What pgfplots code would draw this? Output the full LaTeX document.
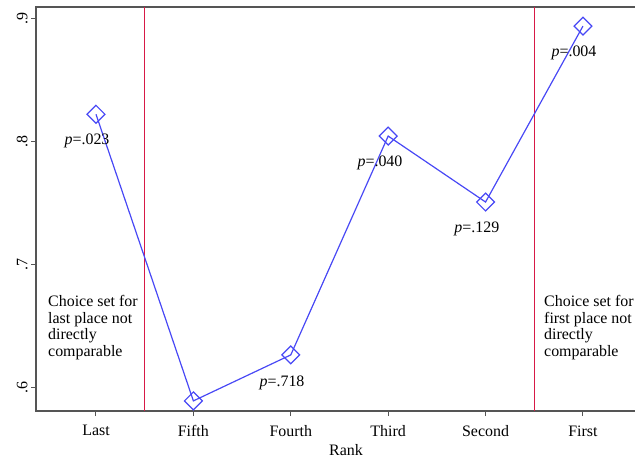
\documentclass[border=0pt]{standalone}
\usepackage{pgfplots}
\pgfplotsset{compat=1.18}
\usepackage{fontspec}
\setmainfont{Liberation Serif}

\definecolor{lineblue}{RGB}{72,72,245}
\definecolor{cutred}{RGB}{215,25,70}
\definecolor{axisgray}{RGB}{85,85,85}

\begin{document}
\begin{tikzpicture}
\begin{axis}[
  at={(0,0)}, anchor=south west,
  scale only axis, width=620bp, height=404bp,
  xmin=-0.616, xmax=5.75, ymin=0.5813, ymax=0.909,
  xtick={0,1,2,3,4,5},
  xticklabels={Last,Fifth,Fourth,Third,Second,First},
  ytick={0.6,0.7,0.8,0.9},
  yticklabels={.6,.7,.8,.9},
  tick align=outside, tick pos=left,
  major tick length=5bp,
  tick style={axisgray, line width=1bp},
  axis line style={axisgray, line width=1.3bp},
  ticklabel style={font=\fontsize{16}{16}\selectfont},
  xticklabel style={yshift=-6bp},
  yticklabel style={rotate=90, anchor=south},
  xlabel={Rank},
  xlabel style={font=\fontsize{16}{16}\selectfont, yshift=-1bp},
  clip=false,
]
% choice-set boundaries
\addplot[cutred, line width=1.3bp] coordinates {(0.5,0.5813) (0.5,0.909)};
\addplot[cutred, line width=1.3bp] coordinates {(4.5,0.5813) (4.5,0.909)};

% mean by rank
\addplot[lineblue, line width=1.2bp, mark=square, mark size=6.3bp,
  mark options={rotate=45, fill=white, line width=1.2bp}]
  coordinates {
    (0,0.822) (1,0.5895) (2,0.6268) (3,0.8043) (4,0.7508) (5,0.8935)
  };

\begin{scope}[every node/.style={font=\fontsize{16}{16}\selectfont, inner sep=0pt}]
\node at (axis cs:-0.092,0.8002) {\textit{p}=.023};
\node at (axis cs:1.910,0.6040) {\textit{p}=.718};
\node at (axis cs:2.916,0.7824) {\textit{p}=.040};
\node at (axis cs:3.910,0.7289) {\textit{p}=.129};
\node at (axis cs:4.908,0.8716) {\textit{p}=.004};
\node[anchor=base west, align=left, font=\fontsize{16}{16.5}\selectfont]
  at (axis cs:-0.493,0.6259) {Choice set for\\last place not\\directly\\comparable};
\node[anchor=base west, align=left, font=\fontsize{16}{16.5}\selectfont]
  at (axis cs:4.600,0.6259) {Choice set for\\first place not\\directly\\comparable};
\end{scope}
\end{axis}
\pgfresetboundingbox
\path[use as bounding box] (-36bp,-51bp) rectangle (599bp,411bp);
\end{tikzpicture}
\end{document}
